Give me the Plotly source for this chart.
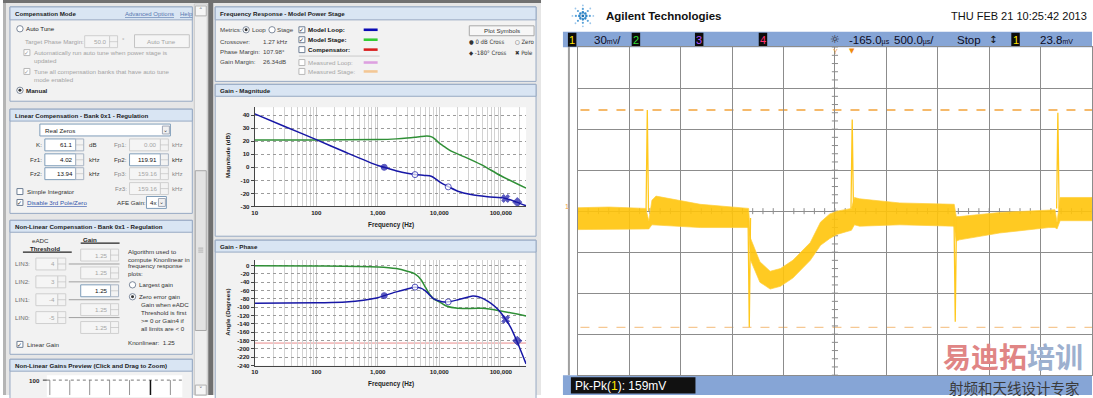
import math
import plotly.graph_objects as go

W, H = 1093, 398
GUI_FONT = "Liberation Sans, Arial, sans-serif"
SCOPE_FONT = "Liberation Sans Narrow, Liberation Sans, Arial, sans-serif"

# ---------------- data: Bode plots ----------------
decade_ticks = [10, 100, 1000, 10000, 100000]
decade_labels = ["10", "100", "1,000", "10,000", "100,000"]
mag_ticks = [40, 30, 20, 10, 0, -10, -20, -30]
phase_ticks = [0, -20, -40, -60, -80, -100, -120, -140, -160, -180, -200, -220, -240]

loop_mag_freq = [10, 30, 100, 300, 1000, 1270, 2130, 3000, 4020, 5750, 7380, 8890,
                 10700, 14300, 20000, 32700, 60800, 120000, 181000, 257000]
loop_mag_db = [41, 31.5, 21.2, 11.5, 1.4, 0, -3.1, -4.6, -5.6, -6.2, -6.8, -9.2,
               -12, -15, -18.3, -20.9, -22.6, -23.9, -26.7, -29.5]

stage_mag_freq = [10, 100, 1000, 2000, 3000, 4000, 5000, 6300, 7500, 8500, 10000,
                  12400, 15600, 25700, 48000, 100000, 257000]
stage_mag_db = [21, 21, 21.3, 21.8, 22.4, 23, 23.6, 24, 23.3, 21.6, 18.5,
                15.4, 12.4, 8, 2, -6.5, -16]

loop_phase_freq = [10, 100, 300, 1000, 1270, 2000, 3000, 4020, 5000, 6000, 7000, 8000,
                   10000, 12000, 14000, 20000, 35000, 43000, 61000, 81000, 100000,
                   120000, 145000, 181000, 211000, 257000]
loop_phase_deg = [-90.6, -89, -87.5, -77, -72, -63, -56, -51.6, -54, -61, -71, -79,
                  -85, -87.5, -87, -82, -73, -74.7, -85, -98.6, -113,
                  -129, -149, -180.5, -204.5, -236]

stage_phase_freq = [10, 100, 1000, 2000, 3000, 4000, 5000, 6000, 7000, 8000, 10000,
                    13000, 20000, 50000, 100000, 257000]
stage_phase_deg = [0, -0.5, -3, -7, -13.4, -19.8, -33, -53, -69, -79, -87,
                   -97, -102.6, -102.6, -109, -121]

phase_ref_deg = -186

symbol_freq = [1270, 4020, 13940, 119910, 185000]
symbol_mag_db = [0, -5.6, -15, -23.9, -26.7]
symbol_phase_deg = [-72, -51.6, -87, -129, -180.5]
symbol_kind = ["0 dB cross", "zero", "zero", "pole", "-180 cross"]

# ---------------- data: oscilloscope ----------------
scope_t_ms = [0.00, 0.30, 0.66, 0.69, 0.72, 0.76, 1.19, 1.66,
              1.68, 1.77, 1.87, 1.97, 2.09, 2.26, 2.36, 2.45, 2.52, 2.66,
              2.69, 2.74, 3.13, 3.66,
              3.68, 3.71, 4.10, 4.58, 4.64, 4.66,
              4.69, 5.00]
scope_upper_mv = [2.5, 3, 2, -7, 8, 11, 5, 2,
                  -20, -37, -44, -42, -36, -23, -8, -2, 0, 2,
                  10, 9, 6, 5,
                  -4, -4, -1, 1, 1, -8,
                  10, 10]
scope_lower_mv = [-13.5, -13, -13, -13, -10, -10, -12, -12,
                  -36, -52, -57, -55, -49, -36, -25, -20, -17, -14,
                  -10, -11, -10, -11,
                  -22, -21, -16, -12, -12, -13,
                  -7, -7]
spike_t_ms = [0.675, 1.667, 2.668, 3.670, 4.668]
spike_base_mv = [0, -5, 2, -5, 2]
spike_peak_mv = [74, -85, 67, -81, 72]
cursor_mv = [74, -85]

# ---------------- helpers ----------------
shapes, annotations = [], []


def rect(x0, y0, x1, y1, fill, line=None, lw=1, layer="below"):
    shapes.append(dict(type="rect", xref="paper", yref="paper",
                       x0=x0 / W, x1=x1 / W, y0=1 - y1 / H, y1=1 - y0 / H,
                       fillcolor=fill,
                       line=dict(color=line or "rgba(0,0,0,0)", width=lw if line else 0),
                       layer=layer))


def seg(x0, y0, x1, y1, color, w=1, dash="solid", layer="below"):
    shapes.append(dict(type="line", xref="paper", yref="paper",
                       x0=x0 / W, x1=x1 / W, y0=1 - y0 / H, y1=1 - y1 / H,
                       line=dict(color=color, width=w, dash=dash), layer=layer))


def circ(cx, cy, r, fill, line=None, lw=1, layer="below"):
    shapes.append(dict(type="circle", xref="paper", yref="paper",
                       x0=(cx - r) / W, x1=(cx + r) / W, y0=1 - (cy + r) / H, y1=1 - (cy - r) / H,
                       fillcolor=fill,
                       line=dict(color=line or "rgba(0,0,0,0)", width=lw if line else 0),
                       layer=layer))


def txt(x, y, s, size=6.2, color="#1e1e1e", bold=False, anchor="left",
        family=GUI_FONT, angle=0):
    if bold:
        s = "<b>" + s + "</b>"
    annotations.append(dict(x=x / W, y=1 - y / H, xref="paper", yref="paper", text=s,
                            showarrow=False, xanchor=anchor, yanchor="middle",
                            font=dict(size=size, color=color, family=family),
                            textangle=angle, borderpad=0))


def panel(x0, y0, x1, y1, title, hh=12):
    rect(x0, y0, x1, y1, "#f2f2f2", "#97a9c3")
    rect(x0, y0, x1, y0 + hh, "#d9e5f3", "#97a9c3")
    txt(x0 + 4, y0 + hh / 2 + 0.5, title, bold=True, size=6.2, color="#1c1c1c")


def spinner(x0, y0, x1, y1, enabled=True):
    rect(x0, y0, x1, y1, "#f3f3f3", "#a8b4c4" if enabled else "#d0d0d0")
    seg(x0, (y0 + y1) / 2, x1, (y0 + y1) / 2, "#b8b8b8", 0.6)


def inputbox(x0, y0, x1, y1, value, enabled=True):
    rect(x0, y0, x1, y1, "#ffffff" if enabled else "#f5f5f5",
         "#7f9db9" if enabled else "#cfcfcf")
    txt(x1 - 2, (y0 + y1) / 2, value, color="#111" if enabled else "#a6a6a6", anchor="right")
    spinner(x1, y0, x1 + 8, y1, enabled)


def checkbox(x, y, checked, enabled=True):
    rect(x - 3, y - 3, x + 3, y + 3, "#ffffff", "#6f7f95" if enabled else "#b8b8b8")
    if checked:
        txt(x, y, "✓", size=6, color="#2a2a2a" if enabled else "#9a9a9a", anchor="center",
            family="DejaVu Sans")


def radio(x, y, selected, enabled=True):
    circ(x, y, 3.2, "#ffffff", "#5f6f85" if enabled else "#b0b0b0", 0.8)
    if selected:
        circ(x, y, 1.5, "#333333")


# ================= LEFT GUI SCREENSHOT =================
rect(0, 0, 540, 398, "#e6e6e6")
rect(0, 0, 540, 3, "#707070")
rect(0, 3, 3, 398, "#b4b4b4")
rect(206, 0, 211, 398, "#707070")

# scrollbar
rect(192, 4, 205, 398, "#efefef", "#c8c8c8")
rect(193, 6, 204, 16, "#f6f6f6", "#b0b0b0")
txt(198.5, 11, "˄", size=7, color="#555", anchor="center", family="DejaVu Sans")
rect(193, 172, 204, 333, "#e3e3e3", "#a8a8a8")
for gy in (250, 252, 254):
    seg(196, gy, 201, gy, "#909090", 0.6)
rect(193, 388, 204, 398, "#f6f6f6", "#b0b0b0")
txt(198.5, 393, "˅", size=7, color="#555", anchor="center", family="DejaVu Sans")

# Panel 1: Compensation Mode
panel(7, 7, 190, 102, "Compensation Mode", hh=13)
txt(121, 14, "<u>Advanced Options</u>", color="#5878b0", size=6)
txt(177, 14, "<u>Help</u>", color="#5878b0", size=6)
radio(17, 29, False)
txt(22, 29, "Auto Tune", color="#222")
txt(21, 42, "Target Phase Margin:", color="#a3a3a3")
inputbox(82, 36, 107, 48, "50.0", enabled=False)
txt(118, 40, "°", color="#a3a3a3")
rect(132, 35, 187, 48, "#f5f5f5", "#c4c4c4")
txt(159.5, 41.5, "Auto Tune", color="#a3a3a3", anchor="center")
checkbox(24, 53, True, False)
txt(30, 53, "Automatically run auto tune when power stage is", color="#a3a3a3")
txt(30, 61, "updated", color="#a3a3a3")
checkbox(24, 72, True, False)
txt(30, 72, "Tune all compensation banks that have auto tune", color="#a3a3a3")
txt(30, 80, "mode enabled", color="#a3a3a3")
radio(17, 91, True)
txt(22, 91, "Manual", bold=True)

# Panel 2: Linear Compensation
panel(7, 110, 190, 215, "Linear Compensation - Bank 0x1 - Regulation")
rect(37, 125, 168, 137, "#ffffff", "#7f9db9")
txt(41, 131, "Real Zeros")
rect(160, 127, 167, 135, "#f0f0f0", "#a0a8b8")
txt(163.5, 130.5, "⌄", size=6, color="#444", anchor="center", family="DejaVu Sans")

left_rows = [("K:", "61.1", "dB", 146), ("Fz1:", "4.02", "kHz", 161), ("Fz2:", "13.94", "kHz", 175)]
for lab, val, unit, y in left_rows:
    txt(40, y, lab, anchor="right", color="#333")
    inputbox(42, y - 6, 73, y + 6, val, True)
    txt(85, y, unit, color="#333")
right_rows = [("Fp1:", "0.00", 146, False), ("Fp2:", "119.91", 161, True),
              ("Fp3:", "159.16", 175, False), ("Fz3:", "159.16", 190, False)]
for lab, val, y, en in right_rows:
    txt(125, y, lab, anchor="right", color="#333" if en else "#8a8a8a")
    inputbox(127, y - 6, 158, y + 6, val, en)
    txt(169, y, "kHz", color="#333" if en else "#8a8a8a")
checkbox(17, 193, False)
txt(23, 193, "Simple Integrator", color="#333")
checkbox(17, 204, True)
txt(23, 204, "<u>Disable 3rd Pole/Zero</u>", color="#3355aa")
txt(113, 204, "AFE Gain:", color="#333")
rect(144, 198, 164, 210, "#ffffff", "#7f9db9")
txt(146.5, 204, "4x")
rect(156, 200, 163, 208, "#f0f0f0", "#a0a8b8")
txt(159.5, 203.5, "⌄", size=6, color="#444", anchor="center", family="DejaVu Sans")

# Panel 3: Non-Linear Compensation
panel(7, 222, 190, 357, "Non-Linear Compensation - Bank 0x1 - Regulation")
txt(38, 242, "eADC", anchor="center", color="#333")
txt(42, 250, "Threshold", bold=True, anchor="center")
seg(20, 254, 69, 254, "#222", 1.2)
txt(87, 241, "Gain", bold=True, anchor="center")
seg(78, 245, 117, 245, "#222", 1.2)
for gy in (257, 275, 293, 312, 330):
    inputbox(78, gy - 6, 108, gy + 6, "1.25", enabled=(gy == 293))
lin_rows = [("LIN3:", "4", 266), ("LIN2:", "3", 284), ("LIN1:", "-4", 302), ("LIN0:", "-5", 320)]
for lab, val, y in lin_rows:
    txt(11, y, lab, color="#6a6a6a")
    inputbox(33, y - 6, 55, y + 6, val, enabled=False)
    seg(66, y, 117, y, "#8a8a8a", 0.8)
for s, y in [("Algorithm used to", 253), ("compute Knonlinear in", 261),
             ("frequency response", 268), ("plots:", 276)]:
    txt(124, y, s, color="#333")
radio(130, 287, False)
txt(135, 287, "Largest gain", color="#333")
radio(130, 299, True)
txt(135, 299, "Zero error gain", color="#333")
for s, y in [("Gain when eADC", 307), ("Threshold is first", 315),
             ("&gt;= 0 or Gain4 if", 323), ("all limits are &lt; 0", 331)]:
    txt(138, y, s, color="#333")
txt(124, 345, "Knonlinear:  1.25", color="#333")
checkbox(17, 347, True)
txt(23, 347, "Linear Gain", color="#333")

# Panel 4: Non-Linear Gains Preview
panel(7, 362, 190, 402, "Non-Linear Gains Preview (Click and Drag to Zoom)")
rect(44, 378, 180, 400, "#ffffff")
txt(38, 383, "100", bold=True, anchor="right")
seg(40, 383, 44, 383, "#333", 1)
seg(44, 383, 180, 383, "#555", 0.8, dash="dot")
for vx in (47, 67, 87, 107, 127, 168):
    seg(vx, 383, vx, 398, "#777", 0.8)
seg(148, 383, 148, 398, "#111", 1.5)

# Middle column: Frequency response
panel(213, 7, 535, 82, "Frequency Response - Model Power Stage", hh=13)
txt(217, 30, "Metrics:", color="#444")
radio(244, 30, True)
txt(248.5, 30, "Loop", color="#444")
radio(270, 30, False)
txt(274.5, 30, "Stage", color="#444")
txt(217, 42, "Crossover:", color="#444")
txt(260, 42, "1.27 kHz", color="#444")
txt(217, 52, "Phase Margin:", color="#444")
txt(260, 52, "107.98°", color="#444")
txt(217, 62, "Gain Margin:", color="#444")
txt(260, 62, "26.34dB", color="#444")
legend_rows = [("Model Loop:", "#0a0ab4", 30, True, True),
               ("Model Stage:", "#33cc33", 40, True, True),
               ("Compensator:", "#d81e1e", 50, False, True),
               ("Measured Loop:", "#dda0e0", 63, False, False),
               ("Measured Stage:", "#f3c795", 72, False, False)]
for lab, col, y, chk, en in legend_rows:
    checkbox(300, y, chk, en)
    txt(305, y, lab, bold=en, color="#111" if en else "#a6a6a6")
    rect(362, y - 1.3, 376, y + 1.3, col)
seg(297, 56.5, 378, 56.5, "#c0c0c0", 0.8)
rect(468, 26, 533, 36, "#f7f7f7", "#a8a8a8")
txt(500.5, 31, "Plot Symbols", anchor="center", color="#333")
SYMF = "DejaVu Sans Condensed, DejaVu Sans, " + GUI_FONT
txt(467, 42, "● 0 dB Cross", color="#333", family=SYMF, size=6)
txt(513, 42, "○ Zero", color="#333", family=SYMF, size=6)
txt(467, 52.5, "◆ -180° Cross", color="#333", family=SYMF, size=6)
txt(513, 52.5, "✖ Pole", color="#333", family=SYMF, size=6)

panel(213, 85, 535, 238, "Gain - Magnitude")
rect(252.7, 108, 525, 208, "#ffffff")
panel(213, 242, 535, 402, "Gain - Phase")
rect(252.7, 262, 525, 368.3, "#ffffff")

txt(226, 157, "Magnitude (dB)", bold=True, angle=-90, anchor="center", size=6.2)
txt(389, 227, "Frequency (Hz)", bold=True, anchor="center", size=6.4)
txt(225, 315, "Angle (Degrees)", bold=True, angle=-90, anchor="center", size=6.2)
txt(389, 387, "Frequency (Hz)", bold=True, anchor="center", size=6.4)

# ================= OSCILLOSCOPE =================
rect(562, 32, 1093, 47.5, "#86a5d6")
rect(562, 378, 1093, 398, "#86a5d6")
seg(568, 47, 568, 378, "#a0a0a0", 2)

# Agilent logo (starburst of dots)
for k in range(8):
    a = k * math.pi / 4
    for r, rr, col in ((3.5, 1.3, "#2f86c8"), (7, 1.1, "#5aa2d8"), (10.5, 0.9, "#9cc6ea")):
        circ(582 + r * math.cos(a), 16 + r * math.sin(a), rr, col)
circ(582, 16, 1.4, "#1f6fb0")
txt(604, 16, "Agilent Technologies", size=11.5, bold=True, color="#111", family=SCOPE_FONT)
txt(1089, 16, "THU FEB 21 10:25:42 2013", size=11, color="#111", family=SCOPE_FONT, anchor="right")

for bx, lab, col in [(567, "1", "#ffe600"), (631, "2", "#33dd33"), (694.5, "3", "#b050ff"),
                     (758.5, "4", "#ff3070"), (1012, "1", "#ffe600")]:
    rect(bx, 33, bx + 8.5, 47, "#0c0c0c")
    txt(bx + 4.25, 40, lab, size=11, color=col, anchor="center", family=SCOPE_FONT)
SM = '<span style="font-size:7px">%s</span>'
bar_items = [(592, "30" + SM % "mV" + "/"), (848, "-165.0" + SM % "µs"),
             (893, "500.0" + SM % "µs" + "/"), (956, "Stop"), (1040, "23.8" + SM % "mV")]
for bx, s in bar_items:
    txt(bx, 40, s, size=11.5, color="#0b0b24", family=SCOPE_FONT)
txt(835, 40, "☼", size=11, color="#222", anchor="center", family="DejaVu Sans")
txt(994, 40, "↕", size=10, color="#111", anchor="center", family="DejaVu Sans")

# trigger markers
txt(852, 51, "▼", size=7, color="#f08c10", anchor="center", family="DejaVu Sans")
txt(835.5, 51.5, "Y", size=7, color="#f0a040", anchor="center", family=SCOPE_FONT)
txt(566, 208, "1", size=7, color="#f0a040", anchor="center", family=SCOPE_FONT)

# measurement box
rect(570, 380, 695, 396.5, "#111111")
txt(573, 388.5, 'Pk-Pk(<span style="color:#ffe600">1</span>): 159mV', size=12,
    color="#ffffff", family=SCOPE_FONT)

# watermark
txt(1014, 359, '<b><span style="color:#e08585">易迪拓</span>'
               '<span style="color:#9db0cf">培训</span></b>',
    size=28, anchor="center", family="Noto Sans CJK SC")
txt(1015, 390, "射频和天线设计专家", size=14.5, color="#3a3a3a", anchor="center",
    family="Noto Sans CJK SC")

# center-line minor ticks of the scope graticule (decoration)
for k in range(-20, 21):
    shapes.append(dict(type="line", xref="x3", yref="y3", x0=2.5 - 0.03, x1=2.5 + 0.03,
                       y0=k * 6, y1=k * 6, line=dict(color="#8c8c8c", width=1), layer="below"))
for k in range(0, 51):
    shapes.append(dict(type="line", xref="x3", yref="y3", x0=k * 0.1, x1=k * 0.1,
                       y0=-2.2, y1=2.2, line=dict(color="#8c8c8c", width=1), layer="below"))

# cursor lines
for i, c in enumerate(cursor_mv):
    shapes.append(dict(type="line", xref="x3 domain", yref="y3", x0=0.005, x1=1,
                       y0=c, y1=c,
                       line=dict(color="#f2a33a" if i == 0 else "#f3bb78",
                                 width=1.3 if i == 0 else 1, dash="dash"),
                       layer="below"))

# phase reference line
shapes.append(dict(type="line", xref="x2 domain", yref="y2", x0=0, x1=1,
                   y0=phase_ref_deg, y1=phase_ref_deg,
                   line=dict(color="#ea8a8a", width=1), layer="below"))

# ================= TRACES =================
BLUE = "#1717a6"
GREEN = "#2f8f36"
fig = go.Figure()

fig.add_trace(go.Scatter(x=stage_mag_freq, y=stage_mag_db, mode="lines",
                         line=dict(color=GREEN, width=1.5, shape="spline", smoothing=0.8),
                         xaxis="x", yaxis="y"))
fig.add_trace(go.Scatter(x=loop_mag_freq, y=loop_mag_db, mode="lines",
                         line=dict(color=BLUE, width=1.5, shape="spline", smoothing=0.8),
                         xaxis="x", yaxis="y"))
fig.add_trace(go.Scatter(x=stage_phase_freq, y=stage_phase_deg, mode="lines",
                         line=dict(color=GREEN, width=1.5, shape="spline", smoothing=0.8),
                         xaxis="x2", yaxis="y2"))
fig.add_trace(go.Scatter(x=loop_phase_freq, y=loop_phase_deg, mode="lines",
                         line=dict(color=BLUE, width=1.5, shape="spline", smoothing=0.8),
                         xaxis="x2", yaxis="y2"))

sym_style = {"0 dB cross": ("circle", BLUE, 6), "zero": ("circle", "#ffffff", 6),
             "pole": ("x", BLUE, 7), "-180 cross": ("diamond", BLUE, 7)}
sym_symbols = [sym_style[k][0] for k in symbol_kind]
sym_colors = [sym_style[k][1] for k in symbol_kind]
sym_sizes = [sym_style[k][2] for k in symbol_kind]
for yv, xa, ya in [(symbol_mag_db, "x", "y"), (symbol_phase_deg, "x2", "y2")]:
    fig.add_trace(go.Scatter(x=symbol_freq, y=yv, mode="markers",
                             marker=dict(symbol=sym_symbols, color=sym_colors, size=sym_sizes,
                                         line=dict(color=BLUE, width=1)),
                             xaxis=xa, yaxis=ya))

# oscilloscope trace: noise band envelope + spikes
band_x = scope_t_ms + scope_t_ms[::-1]
band_y = scope_upper_mv + scope_lower_mv[::-1]
fig.add_trace(go.Scatter(x=band_x, y=band_y, mode="lines", fill="toself",
                         fillcolor="rgba(255,196,10,0.9)",
                         line=dict(color="rgba(255,206,60,0.9)", width=0.8),
                         xaxis="x3", yaxis="y3"))
sx, sy = [], []
for t, b, p in zip(spike_t_ms, spike_base_mv, spike_peak_mv):
    sx += [t - 0.012, t, t + 0.012, None]
    sy += [b, p, b, None]
fig.add_trace(go.Scatter(x=sx, y=sy, mode="lines", line=dict(color="#ffc81e", width=1.3),
                         xaxis="x3", yaxis="y3"))

# ================= AXES =================
minor_vals = [m * d for d in (10, 100, 1000, 10000, 100000) for m in range(2, 10)]
xdom = [252.7 / W, 525 / W]
tickfont = dict(size=6.2, color="#222", family=GUI_FONT)
bold_dec = ["<b>" + s + "</b>" for s in decade_labels]
common_x = dict(type="log", range=[1, 5.41], domain=xdom, tickvals=decade_ticks,
                ticktext=bold_dec, tickfont=tickfont, showgrid=True, gridcolor="#c6c6c6",
                gridwidth=1, minor=dict(tickvals=minor_vals, showgrid=True,
                                        gridcolor="#d2d2d2", gridwidth=1),
                showline=True, linecolor="#444", linewidth=1, zeroline=False, ticks="",
                fixedrange=True)
common_y = dict(showgrid=True, gridcolor="#9c9c9c", griddash="dot", gridwidth=1,
                showline=True, linecolor="#444", linewidth=1, zeroline=False,
                ticks="outside", ticklen=3, tickcolor="#444", tickfont=tickfont,
                fixedrange=True)

layout = dict(
    width=W, height=H, autosize=False,
    margin=dict(l=0, r=0, t=0, b=0),
    paper_bgcolor="#ffffff", plot_bgcolor="rgba(0,0,0,0)",
    showlegend=False, hovermode=False,
    xaxis=dict(common_x, anchor="y"),
    yaxis=dict(common_y, anchor="x", range=[-30, 46.1],
               domain=[1 - 208 / H, 1 - 108 / H],
               tickvals=mag_ticks, ticktext=["<b>%d</b>" % v for v in mag_ticks]),
    xaxis2=dict(common_x, anchor="y2"),
    yaxis2=dict(common_y, anchor="x2", range=[-240, 14.3],
                domain=[1 - 368.3 / H, 1 - 261.7 / H],
                tickvals=phase_ticks, ticktext=["<b>%d</b>" % v for v in phase_ticks]),
    xaxis3=dict(anchor="y3", range=[0, 5], domain=[577 / W, 1.0], dtick=0.5, tick0=0,
                showgrid=True, gridcolor="#8c8c8c", gridwidth=1, showticklabels=False,
                zeroline=False, showline=True, mirror=True, linecolor="#8c8c8c",
                ticks="", fixedrange=True),
    yaxis3=dict(anchor="x3", range=[-120, 120], domain=[1 - 378 / H, 1 - 47.5 / H],
                dtick=30, tick0=0, showgrid=True, gridcolor="#8c8c8c", gridwidth=1,
                showticklabels=False, zeroline=False, showline=True, mirror=True,
                linecolor="#8c8c8c", ticks="", fixedrange=True),
    shapes=shapes,
    annotations=annotations,
)
fig.update_layout(**layout)

fig.write_html("out.html", config={"displayModeBar": False},
               post_script="document.body.style.margin='0';document.body.style.overflow='hidden';")
